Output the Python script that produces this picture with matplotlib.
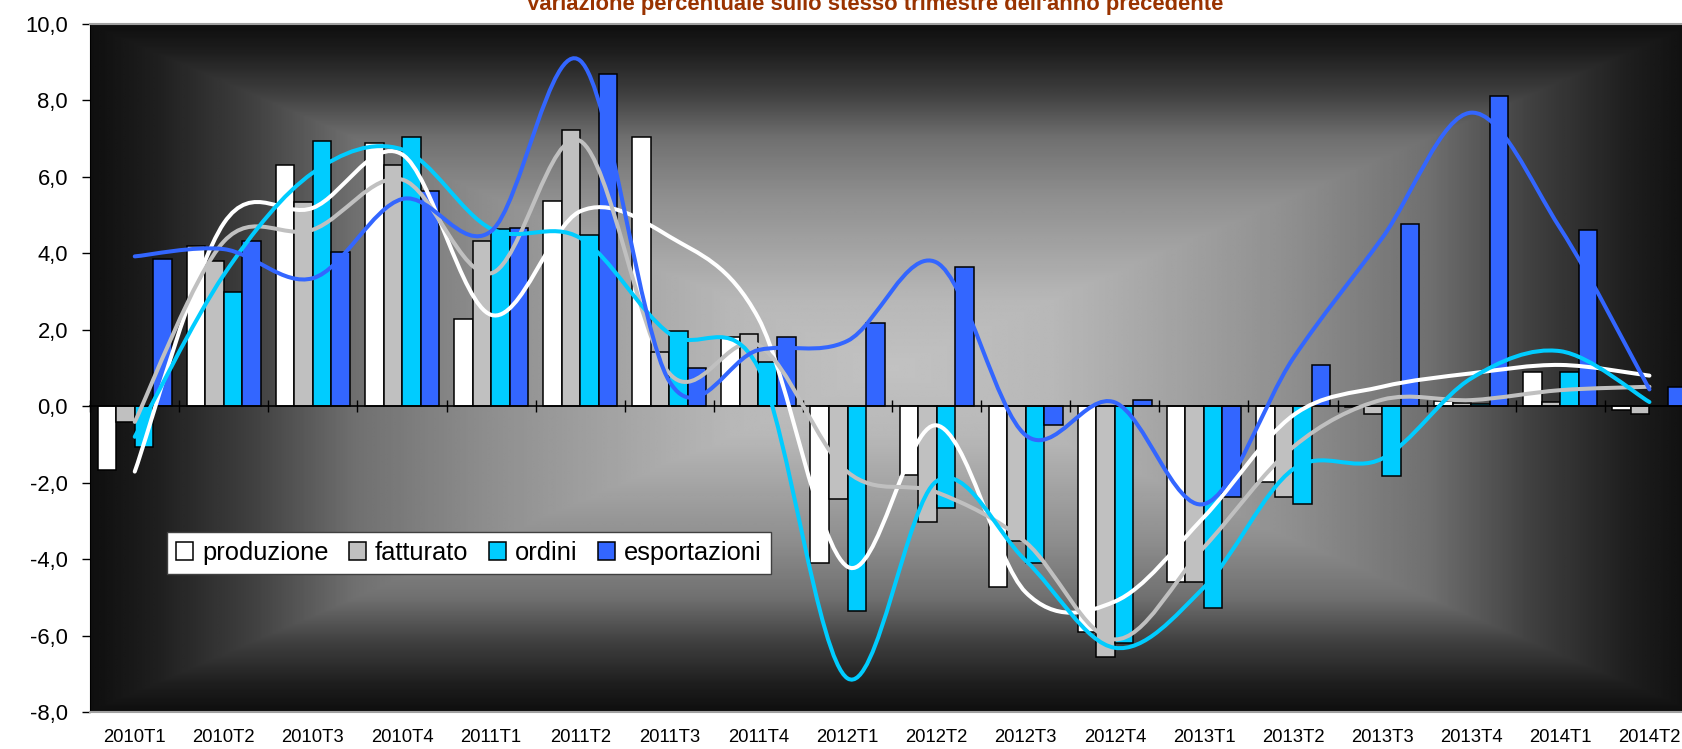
import numpy as np
import matplotlib.pyplot as plt
from matplotlib.path import Path
from matplotlib.patches import PathPatch, Patch

plt.rcParams['font.family'] = ['Liberation Sans', 'DejaVu Sans']

quarters = ['2010T1', '2010T2', '2010T3', '2010T4', '2011T1', '2011T2', '2011T3', '2011T4',
            '2012T1', '2012T2', '2012T3', '2012T4', '2013T1', '2013T2', '2013T3', '2013T4',
            '2014T1', '2014T2']

# bars
produzione = [-1.68, 4.18, 6.31, 6.88, 2.27, 5.38, 7.05, 1.80, -4.09, -1.81, -4.72, -5.92,
              -4.61, -1.99, -0.03, 0.13, 0.90, -0.10]
fatturato = [-0.41, 3.80, 5.34, 6.31, 4.31, 7.22, 1.41, 1.88, -2.42, -3.02, -3.52, -6.55,
             -4.61, -2.38, -0.21, 0.09, 0.11, -0.21]
ordini = [-1.07, 2.99, 6.93, 7.05, 4.64, 4.47, 1.98, 1.16, -5.35, -2.66, -4.09, -6.20,
          -5.28, -2.55, -1.83, 0.07, 0.90, 0.0]
esportazioni = [3.85, 4.31, 4.04, 5.62, 4.66, 8.69, 1.01, 1.80, 2.17, 3.64, -0.50, 0.17,
                -2.38, 1.08, 4.78, 8.12, 4.60, 0.49]

# smoothed lines
produzione_l = [-1.71, 4.79, 5.19, 6.59, 2.39, 5.10, 4.44, 2.30, -4.20, -0.50, -4.87, -5.11,
                -2.90, -0.24, 0.51, 0.86, 1.08, 0.80]
fatturato_l = [-0.41, 4.31, 4.62, 5.93, 3.48, 6.94, 0.86, 1.60, -1.72, -2.25, -3.56, -6.10,
               -3.69, -1.07, 0.17, 0.16, 0.42, 0.51]
ordini_l = [-0.80, 3.44, 6.11, 6.72, 4.64, 4.40, 1.90, 1.00, -7.12, -1.96, -4.04, -6.32,
            -4.74, -1.65, -1.37, 0.73, 1.44, 0.11]
esportazioni_l = [3.92, 4.11, 3.35, 5.42, 4.58, 9.04, 0.65, 1.47, 1.71, 3.76, -0.76, 0.10,
                  -2.56, 1.25, 4.40, 7.68, 4.65, 0.44]

names = ['produzione', 'fatturato', 'ordini', 'esportazioni']
colors = ['#FFFFFF', '#C0C0C0', '#00CCFF', '#3366FF']
bars = [produzione, fatturato, ordini, esportazioni]
lines = [produzione_l, fatturato_l, ordini_l, esportazioni_l]
title = "Variazione percentuale sullo stesso trimestre dell'anno precedente"


def smooth_path(y):
    # Catmull-Rom style bezier through the points, like Excel smoothed lines
    n = len(y)
    xp = np.concatenate([[0], np.arange(n), [n - 1]]).astype(float)
    yp = np.concatenate([[y[0]], y, [y[-1]]]).astype(float)
    verts = [(xp[1], yp[1])]
    codes = [Path.MOVETO]
    for i in range(1, n):
        c1 = (xp[i] + (xp[i + 1] - xp[i - 1]) / 6, yp[i] + (yp[i + 1] - yp[i - 1]) / 6)
        c2 = (xp[i + 1] - (xp[i + 2] - xp[i]) / 6, yp[i + 1] - (yp[i + 2] - yp[i]) / 6)
        verts += [c1, c2, (xp[i + 1], yp[i + 1])]
        codes += [Path.CURVE4] * 3
    return Path(verts, codes)


fig = plt.figure(figsize=(16.82, 7.49), dpi=100)
ax = fig.add_axes([90.2 / 1682, 1 - 712 / 749, 18 * 89.1 / 1682, 688 / 749])

# rectangular gradient background
gx, gy = np.meshgrid(np.linspace(-1, 1, 600), np.linspace(-1, 1, 300))
t = np.maximum(np.abs(gx), np.abs(gy))
shade = np.interp(t, [0, 0.2, 0.5, 0.67, 0.8, 0.92, 1.0],
                  [0.76, 0.72, 0.56, 0.44, 0.25, 0.12, 0.06])
ax.imshow(shade, cmap='gray', vmin=0, vmax=1, extent=(-0.5, 17.5, -8, 10),
          aspect='auto', interpolation='bilinear', zorder=0)

x = np.arange(len(quarters))
w = 0.208
for k, (vals, c) in enumerate(zip(bars, colors)):
    ax.bar(x + (k - 1.5) * w, vals, w, color=c, edgecolor='black', linewidth=1.1, zorder=2)

for vals, c in zip(lines, colors):
    ax.add_patch(PathPatch(smooth_path(vals), fill=False, edgecolor=c, lw=2.9,
                           capstyle='round', joinstyle='round', zorder=3))

ax.set_xlim(-0.5, 17.5)
ax.set_ylim(-8, 10)
ax.set_yticks(np.arange(-8, 11, 2))
ax.set_yticklabels([f'{v:.1f}'.replace('.', ',') for v in np.arange(-8, 11, 2)])
ax.tick_params(axis='y', direction='out', length=6, width=1, pad=10, labelsize=15.8)
ax.set_xticks(x)
ax.set_xticklabels(quarters)
ax.tick_params(axis='x', length=0, pad=12.5, labelsize=13.3)

for s in ['top', 'bottom']:
    ax.spines[s].set_color('#a0a0a0')
    ax.spines[s].set_linewidth(1.5)
ax.spines['left'].set_color('black')
ax.spines['right'].set_visible(False)

# category axis crossing at zero
zero = ax.secondary_xaxis(8 / 18)
zero.set_xticks(np.arange(-0.5, 18, 1))
zero.tick_params(direction='inout', length=9, width=1, labelbottom=False, labeltop=False)
zero.spines['bottom'].set_color('black')
zero.spines['bottom'].set_linewidth(1.2)
zero.set_zorder(2.5)

handles = [Patch(facecolor=c, edgecolor='black', lw=1.1) for c in colors]
leg = fig.legend(handles, names, loc='upper left', bbox_to_anchor=(167 / 1682, 1 - 532 / 749),
                 ncol=4, fontsize=18.4, frameon=True, fancybox=False, framealpha=1,
                 edgecolor='#404040', facecolor='white', handlelength=0.67, handleheight=0.67,
                 handletextpad=0.35, columnspacing=0.8, borderpad=0.35, borderaxespad=0)
leg.get_frame().set_linewidth(1.0)

# title is cut at the top edge, as in the source image
fig.text(0.52, 1 - 10 / 749, title, ha='center', va='baseline', fontsize=15.8,
         fontweight='bold', color='#993300')

fig.savefig('out.png', dpi=100)
